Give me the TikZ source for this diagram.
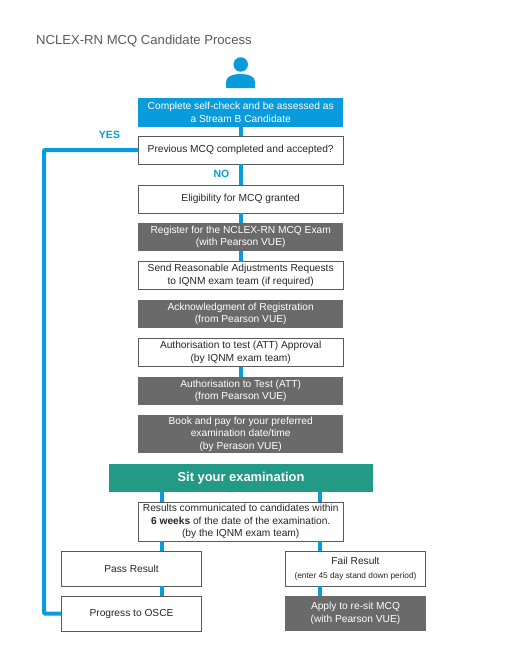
\documentclass[tikz,border=0pt]{standalone}
\usepackage{fontspec}
\setmainfont{Liberation Sans}
\usepackage{xcolor}
\definecolor{iqblue}{HTML}{0A9BDC}
\definecolor{iqgrey}{HTML}{6A6A6A}
\definecolor{iqgreen}{HTML}{239A86}
\definecolor{iqline}{HTML}{5A5A5A}

\begin{document}
\begin{tikzpicture}[
    x=1pt, y=-1pt,
    txt/.style = {font=\fontsize{10.2}{12.5}\selectfont, align=center, inner sep=0pt, outer sep=0pt},
    box/.style = {txt, minimum width=204.5pt, minimum height=#1},
    box/.default = 28pt,
    whitebox/.style = {box=#1, draw=iqline, line width=0.8pt, fill=white, text=black!85},
    whitebox/.default = 28pt,
    greybox/.style = {box=#1, fill=iqgrey, text=white},
    greybox/.default = 28pt,
    link/.style = {color=iqblue, line width=4pt},
    tag/.style = {color=iqblue, font=\fontsize{10.5}{12}\selectfont\bfseries, inner sep=0pt}
                    ]
    \useasboundingbox (0,0) rectangle (505,656);
    \def\cx{240.7}
    \def\lx{162}
    \def\rx{320}
    \def\ox{44}
    \coordinate (left) at (\lx,0);
    \coordinate (right) at (\rx,0);
    \coordinate (outer) at (\ox,0);
    % title and person
    \node[anchor=base west, inner sep=0pt, text=iqline, font=\fontsize{13.1}{15}\selectfont] at (36,44) (title) {NCLEX-RN MCQ Candidate Process};
    \node[circle, fill=iqblue, minimum size=14.5pt, inner sep=0pt] at (\cx,64.5) (head) {};
    \fill[iqblue] (226,88) -- (226,82) .. controls (226,76) and (233,74) .. (\cx,74) .. controls (248,74) and (255,76) .. (255,82) -- (255,88) -- cycle;
    % main column
    \node[box=29pt, fill=iqblue, text=white] at (\cx,112.5) (check) {Complete self-check and be assessed as\\a Stream B Candidate};
    \node[whitebox] at (\cx,150) (previous) {Previous MCQ completed and accepted?};
    \node[whitebox] at (\cx,199) (eligible) {Eligibility for MCQ granted};
    \node[greybox] at (\cx,237) (register) {Register for the NCLEX-RN MCQ Exam\\(with Pearson VUE)};
    \node[whitebox] at (\cx,275.5) (adjust) {Send Reasonable Adjustments Requests\\to IQNM exam team (if required)};
    \node[greybox] at (\cx,314) (ack) {Acknowledgment of Registration\\(from Pearson VUE)};
    \node[whitebox] at (\cx,352.5) (approval) {Authorisation to test (ATT) Approval\\(by IQNM exam team)};
    \node[greybox] at (\cx,391) (att) {Authorisation to Test (ATT)\\(from Pearson VUE)};
    \node[greybox=38pt] at (\cx,434) (book) {Book and pay for your preferred\\examination date/time\\(by Perason VUE)};
    \node[txt, fill=iqgreen, text=white, minimum width=264pt, minimum height=28pt, font=\fontsize{12.9}{15}\selectfont\bfseries] at (241,478) (sit) {Sit your examination};
    \node[whitebox=39pt] at (\cx,521.5) (results) {Results communicated to candidates within\\\textbf{6 weeks} of the date of the examination.\\(by the IQNM exam team)};
    % lower boxes
    \node[whitebox=35pt, minimum width=140.5pt] at (131.5,568.5) (pass) {Pass Result};
    \node[whitebox=35pt, minimum width=140.5pt] at (131.5,613.5) (osce) {Progress to OSCE};
    \node[whitebox=35pt, minimum width=140.5pt] at (355.5,568.5) (fail) {Fail Result\\[1pt]{\fontsize{8.3}{10}\selectfont (enter 45 day stand down period)}};
    \node[greybox=35pt, minimum width=140.5pt] at (355.5,613.5) (resit) {Apply to re-sit MCQ\\(with Pearson VUE)};
    % labels
    \node[tag] at (109.5,135) (yes) {YES};
    \node[tag] at (221.5,174) (no) {NO};
    % connectors
    \draw[link] (check) -- (previous);
    \draw[link] (previous) -- (eligible);
    \draw[link] (eligible) -- (register);
    \draw[link] (register) -- (adjust);
    \draw[link] (approval) -- (att);
    \draw[link] (sit.south -| left) -- (results.north -| left);
    \draw[link] (sit.south -| right) -- (results.north -| right);
    \draw[link] (results.south -| left) -- (pass.north -| left);
    \draw[link] (results.south -| right) -- (fail.north -| right);
    \draw[link] (pass.south -| left) -- (osce.north -| left);
    \draw[link] (fail.south -| right) -- (resit.north -| right);
    \draw[link, rounded corners=1pt] (previous.west) -- (previous.west -| outer) -- (osce.west -| outer) -- (osce.west);
\end{tikzpicture}
\end{document}
